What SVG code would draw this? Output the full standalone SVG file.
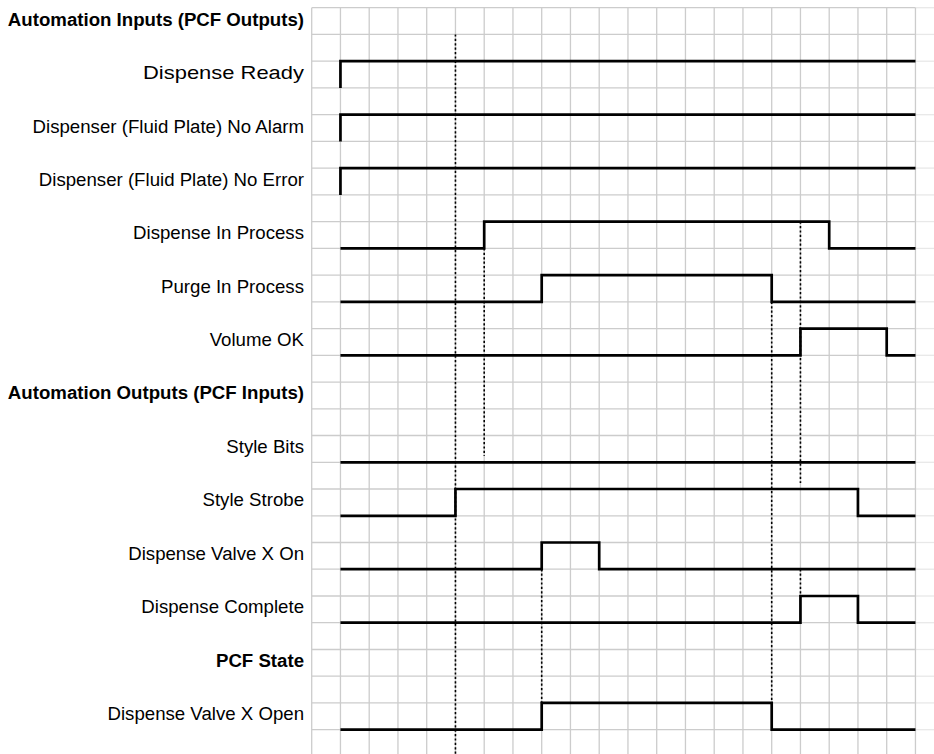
<svg xmlns="http://www.w3.org/2000/svg" width="934" height="754" viewBox="0 0 934 754">
<style>
.bg{fill:#ffffff}
.grid line{stroke:#cccccc;stroke-width:1.3}
.gridfade line{stroke:#e8e8e8;stroke-width:1.3}
.lbl{font-family:"Liberation Sans",Arial,Helvetica,sans-serif;font-size:18.65px;fill:#000;text-anchor:end}
.hdr{font-weight:bold}
.sig{fill:none;stroke:#000;stroke-width:2.7;stroke-linejoin:miter;stroke-linecap:butt}
.dot{stroke:#000;stroke-width:1.6;stroke-dasharray:2.2 2.2;fill:none}
</style>
<rect class="bg" x="0" y="0" width="934" height="754"/>
<g id="grid">
<g class="gridfade">
<line x1="915.5" y1="7.7" x2="934" y2="7.7"/><line x1="915.5" y1="34.4" x2="934" y2="34.4"/><line x1="915.5" y1="61.2" x2="934" y2="61.2"/><line x1="915.5" y1="87.9" x2="934" y2="87.9"/><line x1="915.5" y1="114.7" x2="934" y2="114.7"/><line x1="915.5" y1="141.4" x2="934" y2="141.4"/><line x1="915.5" y1="168.1" x2="934" y2="168.1"/><line x1="915.5" y1="194.9" x2="934" y2="194.9"/><line x1="915.5" y1="221.6" x2="934" y2="221.6"/><line x1="915.5" y1="248.4" x2="934" y2="248.4"/><line x1="915.5" y1="275.1" x2="934" y2="275.1"/><line x1="915.5" y1="301.8" x2="934" y2="301.8"/><line x1="915.5" y1="328.6" x2="934" y2="328.6"/><line x1="915.5" y1="355.3" x2="934" y2="355.3"/><line x1="915.5" y1="382.1" x2="934" y2="382.1"/><line x1="915.5" y1="408.8" x2="934" y2="408.8"/><line x1="915.5" y1="435.5" x2="934" y2="435.5"/><line x1="915.5" y1="462.3" x2="934" y2="462.3"/><line x1="915.5" y1="489.0" x2="934" y2="489.0"/><line x1="915.5" y1="515.8" x2="934" y2="515.8"/><line x1="915.5" y1="542.5" x2="934" y2="542.5"/><line x1="915.5" y1="569.2" x2="934" y2="569.2"/><line x1="915.5" y1="596.0" x2="934" y2="596.0"/><line x1="915.5" y1="622.7" x2="934" y2="622.7"/><line x1="915.5" y1="649.5" x2="934" y2="649.5"/><line x1="915.5" y1="676.2" x2="934" y2="676.2"/><line x1="915.5" y1="702.9" x2="934" y2="702.9"/><line x1="915.5" y1="729.7" x2="934" y2="729.7"/>
</g>
<g class="grid">
<line x1="311.7" y1="7.7" x2="915.5" y2="7.7"/><line x1="311.7" y1="34.4" x2="915.5" y2="34.4"/><line x1="311.7" y1="61.2" x2="915.5" y2="61.2"/><line x1="311.7" y1="87.9" x2="915.5" y2="87.9"/><line x1="311.7" y1="114.7" x2="915.5" y2="114.7"/><line x1="311.7" y1="141.4" x2="915.5" y2="141.4"/><line x1="311.7" y1="168.1" x2="915.5" y2="168.1"/><line x1="311.7" y1="194.9" x2="915.5" y2="194.9"/><line x1="311.7" y1="221.6" x2="915.5" y2="221.6"/><line x1="311.7" y1="248.4" x2="915.5" y2="248.4"/><line x1="311.7" y1="275.1" x2="915.5" y2="275.1"/><line x1="311.7" y1="301.8" x2="915.5" y2="301.8"/><line x1="311.7" y1="328.6" x2="915.5" y2="328.6"/><line x1="311.7" y1="355.3" x2="915.5" y2="355.3"/><line x1="311.7" y1="382.1" x2="915.5" y2="382.1"/><line x1="311.7" y1="408.8" x2="915.5" y2="408.8"/><line x1="311.7" y1="435.5" x2="915.5" y2="435.5"/><line x1="311.7" y1="462.3" x2="915.5" y2="462.3"/><line x1="311.7" y1="489.0" x2="915.5" y2="489.0"/><line x1="311.7" y1="515.8" x2="915.5" y2="515.8"/><line x1="311.7" y1="542.5" x2="915.5" y2="542.5"/><line x1="311.7" y1="569.2" x2="915.5" y2="569.2"/><line x1="311.7" y1="596.0" x2="915.5" y2="596.0"/><line x1="311.7" y1="622.7" x2="915.5" y2="622.7"/><line x1="311.7" y1="649.5" x2="915.5" y2="649.5"/><line x1="311.7" y1="676.2" x2="915.5" y2="676.2"/><line x1="311.7" y1="702.9" x2="915.5" y2="702.9"/><line x1="311.7" y1="729.7" x2="915.5" y2="729.7"/>
<line x1="311.7" y1="7.7" x2="311.7" y2="754"/><line x1="340.45" y1="7.7" x2="340.45" y2="754"/><line x1="369.2" y1="7.7" x2="369.2" y2="754"/><line x1="397.95" y1="7.7" x2="397.95" y2="754"/><line x1="426.7" y1="7.7" x2="426.7" y2="754"/><line x1="455.45" y1="7.7" x2="455.45" y2="754"/><line x1="484.2" y1="7.7" x2="484.2" y2="754"/><line x1="512.95" y1="7.7" x2="512.95" y2="754"/><line x1="541.7" y1="7.7" x2="541.7" y2="754"/><line x1="570.45" y1="7.7" x2="570.45" y2="754"/><line x1="599.2" y1="7.7" x2="599.2" y2="754"/><line x1="627.95" y1="7.7" x2="627.95" y2="754"/><line x1="656.7" y1="7.7" x2="656.7" y2="754"/><line x1="685.45" y1="7.7" x2="685.45" y2="754"/><line x1="714.2" y1="7.7" x2="714.2" y2="754"/><line x1="742.95" y1="7.7" x2="742.95" y2="754"/><line x1="771.7" y1="7.7" x2="771.7" y2="754"/><line x1="800.45" y1="7.7" x2="800.45" y2="754"/><line x1="829.2" y1="7.7" x2="829.2" y2="754"/><line x1="857.95" y1="7.7" x2="857.95" y2="754"/><line x1="886.7" y1="7.7" x2="886.7" y2="754"/><line x1="915.45" y1="7.7" x2="915.45" y2="754"/>
</g>
</g>
<g id="connectors">
<line class="dot" x1="455.45" y1="34.4" x2="455.45" y2="754"/>
<line class="dot" x1="484.2" y1="248.4" x2="484.2" y2="456"/>
<line class="dot" x1="541.7" y1="569.2" x2="541.7" y2="702.9"/>
<line class="dot" x1="771.7" y1="301.8" x2="771.7" y2="702.9"/>
<line class="dot" x1="800.45" y1="221.6" x2="800.45" y2="483"/>
<line class="dot" x1="800.45" y1="569.2" x2="800.45" y2="596"/>
</g>
<g id="hdr-inputs"><text class="lbl hdr" x="304" y="25.5">Automation Inputs (PCF Outputs)</text></g>
<g id="dispense-ready"><text class="lbl" x="304" y="79" textLength="161" lengthAdjust="spacingAndGlyphs">Dispense Ready</text><path class="sig" d="M340.45,87.9 V61.2 H915.45"/></g>
<g id="no-alarm"><text class="lbl" x="304" y="132.5">Dispenser (Fluid Plate) No Alarm</text><path class="sig" d="M340.45,141.4 V114.7 H915.45"/></g>
<g id="no-error"><text class="lbl" x="304" y="185.9">Dispenser (Fluid Plate) No Error</text><path class="sig" d="M340.45,194.9 V168.1 H915.45"/></g>
<g id="dispense-in-process"><text class="lbl" x="304" y="239.4">Dispense In Process</text><path class="sig" d="M340.45,248.4 H484.2 V221.6 H829.2 V248.4 H915.45"/></g>
<g id="purge-in-process"><text class="lbl" x="304" y="292.9">Purge In Process</text><path class="sig" d="M340.45,301.8 H541.7 V275.1 H771.7 V301.8 H915.45"/></g>
<g id="volume-ok"><text class="lbl" x="304" y="346.3">Volume OK</text><path class="sig" d="M340.45,355.3 H800.45 V328.6 H886.7 V355.3 H915.45"/></g>
<g id="hdr-outputs"><text class="lbl hdr" x="304" y="399.4">Automation Outputs (PCF Inputs)</text></g>
<g id="style-bits"><text class="lbl" x="304" y="452.7">Style Bits</text><path class="sig" d="M340.45,462.3 H915.45"/></g>
<g id="style-strobe"><text class="lbl" x="304" y="506.2">Style Strobe</text><path class="sig" d="M340.45,515.8 H455.45 V489 H857.95 V515.8 H915.45"/></g>
<g id="valve-on"><text class="lbl" x="304" y="559.6">Dispense Valve X On</text><path class="sig" d="M340.45,569.2 H541.7 V542.5 H599.2 V569.2 H915.45"/></g>
<g id="dispense-complete"><text class="lbl" x="304" y="613.1">Dispense Complete</text><path class="sig" d="M340.45,622.7 H800.45 V596 H857.95 V622.7 H915.45"/></g>
<g id="hdr-pcf-state"><text class="lbl hdr" x="304" y="666.6">PCF State</text></g>
<g id="valve-open"><text class="lbl" x="304" y="720">Dispense Valve X Open</text><path class="sig" d="M340.45,729.7 H541.7 V702.9 H771.7 V729.7 H915.45"/></g>
</svg>
